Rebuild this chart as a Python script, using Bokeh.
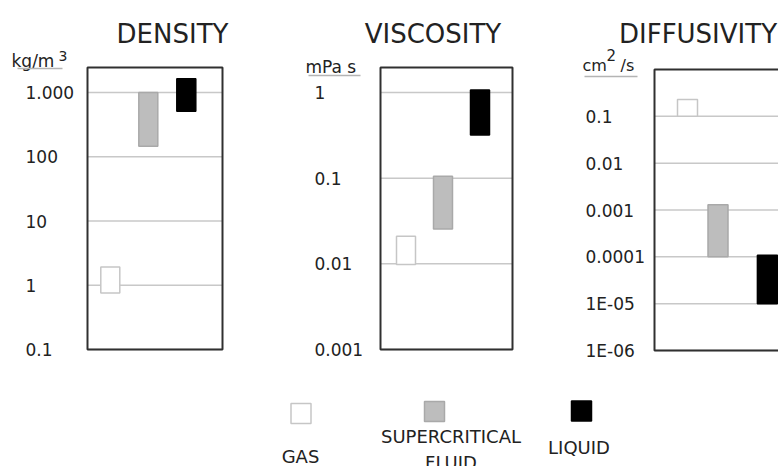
from math import log10

from bokeh.plotting import figure
from bokeh.layouts import row, column
from bokeh.models import Range1d, LinearScale, ColumnDataSource
from bokeh.core.properties import value
from bokeh.embed import file_html
from bokeh.resources import INLINE

# ---- data -------------------------------------------------------------
categories = ["GAS", "SUPERCRITICAL FLUID", "LIQUID"]

density_low = [0.76, 146, 510]
density_high = [1.93, 1000, 1630]
density_ticks = [1000, 100, 10, 1, 0.1]
density_tick_labels = ["1.000", "100", "10", "1", "0.1"]

viscosity_low = [0.0098, 0.0255, 0.32]
viscosity_high = [0.021, 0.105, 1.07]
viscosity_ticks = [1, 0.1, 0.01, 0.001]
viscosity_tick_labels = ["1", "0.1", "0.01", "0.001"]

diffusivity_low = [0.1, 1e-4, 1e-5]
diffusivity_high = [0.23, 1.3e-3, 1.08e-4]
diffusivity_ticks = [0.1, 0.01, 0.001, 1e-4, 1e-5, 1e-6]
diffusivity_tick_labels = ["0.1", "0.01", "0.001", "0.0001", "1E-05", "1E-06"]

# ---- style ------------------------------------------------------------
FONT = "DejaVu Sans"
INK = "#222222"
FRAME = "#303030"
GRID = "#c8c8c8"
fill_colors = ["#ffffff", "#bdbdbd", "#000000"]
line_colors = ["#c6c6c6", "#a9a9a9", "#000000"]
ROW_H = 375


def panel(spec, low, high, ticks, tick_labels):
    """One log-scaled panel. The whole canvas is the plot frame; the boxed
    area is drawn inside it, and a pixel range ("px") places the texts."""
    w = spec["width"]
    fl, fr, ft, fb = spec["frame"]
    a, b = spec["slot_px"]
    ymin, ytop = min(ticks), spec["ytop"]
    dec_per_px = (log10(ytop) - log10(ymin)) / (fb - ft)
    y_range = Range1d(10 ** (log10(ymin) - (ROW_H - fb) * dec_per_px),
                      10 ** (log10(ytop) + ft * dec_per_px))
    x_range = Range1d(-(fl + a) / b, (w - fl - a) / b)

    p = figure(width=w, height=ROW_H, y_axis_type="log", x_range=x_range, y_range=y_range,
               x_axis_location=None, y_axis_location=None, min_border=0,
               toolbar_location=None, output_backend="svg")
    p.extra_x_ranges = {"px": Range1d(0, w)}
    p.extra_y_ranges = {"px": Range1d(ROW_H, 0)}
    p.extra_x_scales = {"px": LinearScale()}
    p.extra_y_scales = {"px": LinearScale()}
    p.outline_line_color = None
    p.grid.visible = False

    # horizontal reference lines at each decade
    tick_src = ColumnDataSource(dict(y=ticks, text=tick_labels))
    p.segment(x0=fl, x1=fr, y0="y", y1="y", source=tick_src, x_range_name="px",
              line_color=GRID, line_width=1.5)

    # floating bars: one per state of matter
    src = ColumnDataSource(dict(x=spec["slots"], bottom=low, top=high,
                                fill=fill_colors, line=line_colors, name=categories))
    p.vbar(x="x", width=spec["bar_px"] / b, bottom="bottom", top="top",
           fill_color="fill", line_color="line", line_width=1.5, source=src)

    # box around the value area
    p.quad(left=fl, right=spec["box_right"], bottom=ymin, top=ytop, x_range_name="px",
           fill_color=None, line_color=FRAME, line_width=2)

    # decade labels, left aligned in the margin
    p.text(x=spec["label_x"], y="y", text="text", source=tick_src, x_range_name="px",
           text_font=value(FONT), text_font_size="17px", text_color=INK,
           text_align="left", text_baseline="middle")

    # panel title
    p.text(x=[spec["title_cx"]], y=[33], text=[spec["title"]],
           x_range_name="px", y_range_name="px",
           text_font=value(FONT), text_font_size="26px", text_color=INK,
           text_align="center", text_baseline="alphabetic")

    # unit, with its superscript parts, and the rule under it
    for text, X, Y, size in spec["unit"]:
        p.text(x=[X], y=[Y], text=[text], x_range_name="px", y_range_name="px",
               text_font=value(FONT), text_font_size=size, text_color=INK,
               text_align="left", text_baseline="alphabetic")
    ux0, ux1, uy = spec["underline"]
    p.segment(x0=[ux0], x1=[ux1], y0=[uy], y1=[uy], x_range_name="px", y_range_name="px",
              line_color="#b4b4b4", line_width=1.5)
    return p


density_spec = dict(width=260, frame=(87, 222, 67, 349), box_right=222,
                    slot_px=(22.8, 38), slots=[0, 1, 2], bar_px=19, ytop=2450,
                    title="DENSITY", title_cx=172, label_x=25,
                    unit=[("kg/m", 11, 60, "17px"), ("3", 58, 55, "14px")],
                    underline=(17, 62, 68))
viscosity_spec = dict(width=260, frame=(120, 252, 67, 349), box_right=252,
                      slot_px=(25.5, 37), slots=[0, 1, 2], bar_px=19, ytop=1.96,
                      title="VISCOSITY", title_cx=172.5, label_x=54,
                      unit=[("mPa s", 45, 66, "17px")],
                      underline=(48, 100, 75))
diffusivity_spec = dict(width=258, frame=(134, 258, 69, 350), box_right=270,
                        slot_px=(33, 30.5), slots=[0, 1, 2.62], bar_px=20, ytop=1.0,
                        title="DIFFUSIVITY", title_cx=177.5, label_x=65,
                        unit=[("cm", 62, 65, "16px"), ("2", 86, 54, "15px"), ("/s", 100, 65, "16px")],
                        underline=(64, 117, 76))

p_den = panel(density_spec, density_low, density_high, density_ticks, density_tick_labels)
p_vis = panel(viscosity_spec, viscosity_low, viscosity_high, viscosity_ticks, viscosity_tick_labels)
p_dif = panel(diffusivity_spec, diffusivity_low, diffusivity_high, diffusivity_ticks, diffusivity_tick_labels)

# ---- legend strip -----------------------------------------------------
LEG_H = 91
leg = figure(width=778, height=LEG_H, x_range=Range1d(0, 778), y_range=Range1d(LEG_H, 0),
             x_axis_location=None, y_axis_location=None, min_border=0,
             toolbar_location=None, output_backend="svg")
leg.outline_line_color = None
leg.grid.visible = False

swatch = ColumnDataSource(dict(x=[300.5, 434, 581], y=[38, 36, 35.5],
                               fill=fill_colors, line=line_colors))
leg.scatter(x="x", y="y", marker="square", size=20, fill_color="fill",
            line_color="line", line_width=1.5, source=swatch)

names = ColumnDataSource(dict(x=[300, 450.5, 578.5], y=[81, 74, 72],
                              text=[c.replace(" ", "\n") for c in categories]))
leg.text(x="x", y="y", text="text", source=names, text_font=value(FONT),
         text_font_size="18px", text_color=INK, text_align="center",
         text_baseline="alphabetic", text_line_height=1.2)

layout = column(row(p_den, p_vis, p_dif), leg)

open("out.html", "w").write(file_html(layout, INLINE))
